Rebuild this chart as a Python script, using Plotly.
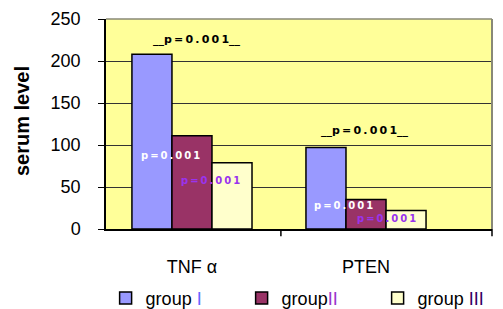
import plotly.graph_objects as go

categories = ["TNF \u03b1", "PTEN"]
group1 = [208, 97]
group2 = [111, 35]
group3 = [79, 22]
series_names = ["group <span style='color:#6666ff'>I</span>",
                "group<span style='color:#9933cc'>II</span>",
                "group <span style='color:#330066'>III</span>"]
colors = ["#9999FF", "#993366", "#FFFFCC"]
y_ticks = [0, 50, 100, 150, 200, 250]
p_text = "p=0.001"

def spaced(s):
    return "\u2009".join(s)

fig = go.Figure()
for name, vals, col in zip(series_names, [group1, group2, group3], colors):
    fig.add_trace(go.Bar(x=[0, 1], y=vals, name=name,
                         marker=dict(color=col, line=dict(color="black", width=1.5))))

pfont = "DejaVu Sans"
annotations = []
# top p-values
for x, y in [(0.03, 226), (0.994, 117)]:
    annotations.append(dict(x=x, y=y, text="<b>__" + spaced(p_text) + "__</b>", showarrow=False,
                            font=dict(family=pfont, size=11, color="black")))
# inner p-values
inner = [(-0.126, 87, "white"), (0.109, 57.5, "#9933ee"), (0.868, 27.7, "white"), (1.115, 12, "#9933ee")]
for x, y, c in inner:
    annotations.append(dict(x=x, y=y, text="<b>" + spaced(p_text) + "</b>", showarrow=False,
                            font=dict(family=pfont, size=10, color=c)))
annotations.append(dict(x=0, xref="paper", xanchor="center", y=0.514, yref="paper",
                        text="<b>serum level</b>", textangle=-90, showarrow=False,
                        font=dict(family="Arial", size=20, color="black"), xshift=-84))

fig.update_layout(
    width=495, height=301,
    margin=dict(l=98, r=11, t=11, b=80, autoexpand=False),
    paper_bgcolor="white",
    plot_bgcolor="#FFFF99",
    barmode="group",
    bargap=0.31,
    bargroupgap=0,
    showlegend=True,
    legend=dict(orientation="h", x=-0.001, xanchor="left", y=-0.33, yanchor="middle",
                font=dict(family="Arial", size=18, color="black"), entrywidth=91, entrywidthmode="pixels",
                itemwidth=30, tracegroupgap=0),
    annotations=annotations,
    xaxis=dict(range=[-0.494, 1.724], tickmode="array", tickvals=[0, 1], ticktext=categories,
               ticks="", showline=True, linecolor="black", linewidth=1.5, showgrid=False,
               tickfont=dict(family="Arial", size=18, color="black"), zeroline=False, ticklabelstandoff=21),
    yaxis=dict(range=[0, 250], tickvals=y_ticks, ticks="outside", ticklen=6, tickcolor="black",
               showline=True, linecolor="black", linewidth=1.5, showgrid=True, gridcolor="#333333",
               gridwidth=1, tickfont=dict(family="Arial", size=18, color="black"), zeroline=False,
               ticklabelstandoff=14),
    shapes=[
        dict(type="line", xref="x", yref="paper", x0=0.511, x1=0.511, y0=0, y1=-0.035,
             line=dict(color="black", width=1.5)),
        dict(type="line", xref="paper", yref="paper", x0=1, x1=1, y0=0, y1=-0.035,
             line=dict(color="black", width=1.5)),
        dict(type="line", xref="paper", yref="paper", x0=0, x1=1, y0=1, y1=1,
             line=dict(color="#888877", width=1.5)),
        dict(type="line", xref="paper", yref="paper", x0=1, x1=1, y0=0, y1=1,
             line=dict(color="#888877", width=2)),
    ],
)
fig.write_html("out.html")
